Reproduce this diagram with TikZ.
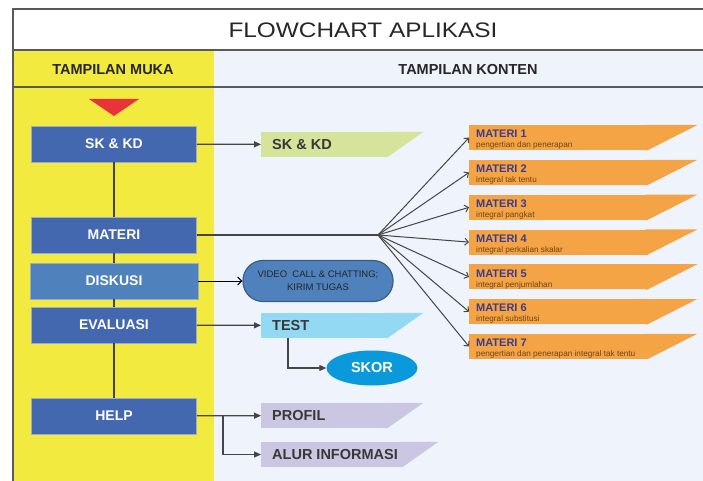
\documentclass[tikz,border=0pt]{standalone}
\usepackage{fontspec}
\setmainfont{Liberation Sans}
\usepackage{graphicx}
\usetikzlibrary{arrows.meta,shapes.geometric}

\definecolor{muka}{HTML}{F3EA40}
\definecolor{konten}{HTML}{EFF3FB}
\definecolor{framegray}{HTML}{5A5A5A}
\definecolor{menublue}{HTML}{4468B0}
\definecolor{diskblue}{HTML}{4F81BD}
\definecolor{videoline}{HTML}{385D8A}
\definecolor{skgreen}{HTML}{D5E39B}
\definecolor{testblue}{HTML}{93D9F4}
\definecolor{skorblue}{HTML}{0A9ADB}
\definecolor{helplila}{HTML}{CBC7E2}
\definecolor{materiorange}{HTML}{F4A445}
\definecolor{materitext}{HTML}{3C3C8C}
\definecolor{subtext}{HTML}{6E4418}
\definecolor{linegray}{HTML}{454545}
\definecolor{segitiga}{HTML}{E8333A}

\begin{document}
\begin{tikzpicture}[x=1pt, y=-1pt,
  menu/.style={fill=menublue, draw=menublue!55!white, line width=0.8, minimum width=165, minimum height=36,
    text=white, font=\fontsize{14}{16}\selectfont\bfseries},
  tab/.style n args={3}{fill=#1, anchor=west, minimum height=25, text width=#2, inner xsep=11, inner ysep=0,
    align=flush left, text=black!78, font=\fontsize{14.5}{16}\selectfont\bfseries,
    append after command={\pgfextra{\fill[#1] ([xshift=-2]\tikzlastnode.north east) -- ++(#3+2,0)
      -- (\tikzlastnode.south east) -- ([xshift=-2]\tikzlastnode.south east) -- cycle;}}},
  conn/.style={draw=linegray, line width=1.2},
  arr/.style={conn, -{Triangle[length=7pt,width=6pt]}},
  openarr/.style={draw=black, line width=1, -{Straight Barb[length=4pt,width=8pt]}},
  fanarr/.style={draw=linegray, line width=1, -{Straight Barb[length=3.5pt,width=7pt]}},
  framel/.style={draw=framegray, line width=1.6}]
\useasboundingbox (0,0) rectangle (703,481);

% latar kolom
\fill[white] (13,9) rectangle (703,50);
\fill[muka] (13,50) rectangle (214,481);
\fill[konten] (214,50) rectangle (703,481);
\draw[framel] (703,9) -- (13,9) -- (13,481);
\draw[framel] (13,50) -- (703,50);
\draw[framel] (13,87) -- (703,87);

\node[text=black!85, font=\fontsize{21}{24}\selectfont] (judul) at (363,30) {\scalebox{1.16}[1]{FLOWCHART APLIKASI}};
\node[text=black!85, font=\fontsize{14.5}{16}\selectfont\bfseries] (muka) at (113,70) {TAMPILAN MUKA};
\node[text=black!85, font=\fontsize{14.5}{16}\selectfont\bfseries] (konten) at (468,70) {TAMPILAN KONTEN};

% tampilan muka
\fill[segitiga] (89,99) -- (139,99) -- (114,116) -- cycle;
\node[menu] (skkd) at (114,144) {SK \& KD};
\node[menu] (materi) at (114,235) {MATERI};
\node[menu, fill=diskblue, minimum width=168] (diskusi) at (114,281) {DISKUSI};
\node[menu] (evaluasi) at (114,325) {EVALUASI};
\node[menu] (help) at (114,416) {HELP};
\foreach \a/\b in {skkd/materi, materi/diskusi, diskusi/evaluasi, evaluasi/help} {
  \draw[conn] (\a) -- (\b);
}

% tampilan konten
\node[tab={skgreen}{104}{36}] (skkdK) at (261,144.5) {SK \& KD};
\node[fill=diskblue, draw=videoline, line width=1.2, rounded corners=20, minimum width=150, minimum height=41,
  align=center, text=black!85, font=\fontsize{9.5}{13}\selectfont] (video) at (318,281) {VIDEO\ \ CALL \& CHATTING;\\KIRIM TUGAS};
\node[tab={testblue}{104}{36}] (test) at (261,325.5) {TEST};
\node[ellipse, fill=skorblue, minimum width=91, minimum height=35, text=white,
  font=\fontsize{14.5}{16}\selectfont\bfseries] (skor) at (372,368) {SKOR};
\node[tab={helplila}{104}{36}] (profil) at (261,415.5) {PROFIL};
\node[tab={helplila}{119}{36}] (alur) at (261,454.5) {\mbox{ALUR INFORMASI}};

\draw[arr] (skkd) -- (skkdK);
\draw[openarr] (diskusi) -- (video);
\draw[arr] (evaluasi) -- (test);
\draw[arr] ([xshift=27]test.south west) |- (skor);
\draw[arr] (help) -- (profil);
\draw[arr] ([xshift=26]help.east) |- (alur);

% materi
\coordinate (fan) at (378,235);
\draw[conn] (materi) -- (fan);
\foreach \i/\sub in {1/pengertian dan penerapan, 2/integral tak tentu, 3/integral pangkat,
    4/integral perkalian skalar, 5/integral penjumlahan, 6/integral substitusi,
    7/pengertian dan penerapan integral tak tentu} {
  \node[tab={materiorange}{164}{50}, anchor=north west, inner xsep=7] (m\i) at (469,{125+34.8*(\i-1)})
    {\rule{0pt}{12pt}{\color{materitext}\fontsize{11}{11}\selectfont MATERI \i}\\[-6pt]{\color{subtext}\fontsize{8.2}{8}\selectfont\mdseries \sub}};
  \draw[fanarr] (fan) -- (m\i.west);
}
\end{tikzpicture}
\end{document}
